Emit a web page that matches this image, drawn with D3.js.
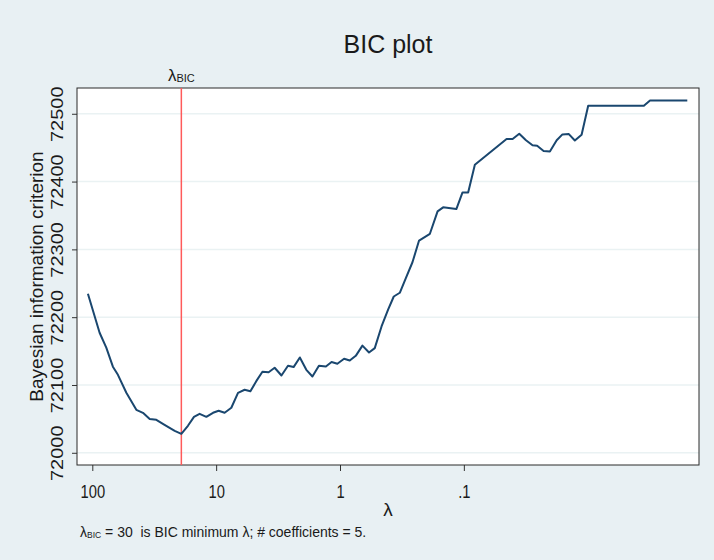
<!DOCTYPE html>
<html>
<head>
<meta charset="utf-8">
<script src="https://cdn.jsdelivr.net/npm/d3@7"></script>
<style>
  html, body { margin: 0; padding: 0; background: #e8f0f3; }
  svg { display: block; }
  text { font-family: "Liberation Sans", Arial, sans-serif; fill: #1a1a1a; white-space: pre; }
</style>
</head>
<body>
<svg id="chart" width="714" height="560"></svg>
<script>
// ---- data ----
const lambdaValues = [108.5, 87.3, 77.1, 68.2, 62.1, 53.1, 44.1, 39.0, 34.4, 30.4, 26.1, 21.6, 19.1,
  16.9, 15.1, 13.6, 12.0, 10.6, 9.55, 8.54, 7.54, 6.66, 5.89, 5.29, 4.73, 4.23, 3.77, 3.37, 2.97,
  2.63, 2.37, 2.11, 1.87, 1.67, 1.48, 1.30, 1.17, 1.05, 0.927, 0.834, 0.746, 0.659, 0.583, 0.524,
  0.462, 0.409, 0.368, 0.329, 0.294, 0.260, 0.230, 0.188, 0.163, 0.147, 0.115, 0.1025, 0.0923,
  0.0815, 0.0452, 0.0404, 0.0357, 0.0315, 0.0279, 0.0256, 0.0227, 0.0202, 0.0178, 0.0160, 0.0142,
  0.0127, 0.0112, 0.00991, 0.00352, 0.00314, 0.00157];
const bicValues = [72234.5, 72177, 72155, 72127, 72115, 72088.5, 72063.4, 72059, 72050, 72048.7,
  72041.3, 72032.4, 72028, 72039.8, 72053, 72057.5, 72053, 72059, 72062, 72059, 72066.4, 72088.5,
  72093, 72090.7, 72106, 72119.5, 72118.7, 72125.4, 72114, 72128.3, 72126.4, 72140.6, 72122.4,
  72112.5, 72128.3, 72127.3, 72133.8, 72131.3, 72138.6, 72136, 72143, 72158, 72148, 72154.4,
  72186.3, 72211, 72230.5, 72236, 72257.7, 72281, 72313, 72323, 72356, 72362, 72359.4, 72384,
  72384, 72424.8, 72462.7, 72462.7, 72470.5, 72461, 72453.5, 72452.8, 72445, 72444.4, 72461,
  72469.6, 72470, 72460.6, 72469, 72511.8, 72511.8, 72519.6, 72519.6];
const xTickValues = [100, 10, 1, 0.1];
const xTickLabels = ["100", "10", "1", ".1"];
const yTickValues = [72000, 72100, 72200, 72300, 72400, 72500];
const lambdaBIC = 19.1;          // position of the vertical reference line
const lambdaBICText = "30";      // value printed in the note
const nCoefficients = 5;

// ---- layout ----
const svg = d3.select("#chart");
const plot = { left: 77, right: 699, top: 88, bottom: 465 };

svg.append("rect").attr("width", 714).attr("height", 560).attr("fill", "#e8f0f3");

const x = d3.scaleLog().domain([132.9, 0.001263]).range([plot.left, plot.right]);
const y = d3.scaleLinear().domain([71982, 72538]).range([plot.bottom, plot.top]);

svg.append("rect")
  .attr("x", plot.left).attr("y", plot.top)
  .attr("width", plot.right - plot.left).attr("height", plot.bottom - plot.top)
  .attr("fill", "#ffffff");

// gridlines
svg.append("g").selectAll("line").data(yTickValues).join("line")
  .attr("x1", plot.left).attr("x2", plot.right)
  .attr("y1", d => y(d)).attr("y2", d => y(d))
  .attr("stroke", "#eaf2f3").attr("stroke-width", 1.5);

// axes
const xAxis = d3.axisBottom(x).tickValues(xTickValues)
  .tickFormat((d, i) => xTickLabels[i]).tickSize(6).tickSizeOuter(0).tickPadding(0);
const gx = svg.append("g").attr("transform", `translate(0,${plot.bottom})`).call(xAxis);
gx.select(".domain").remove();
gx.selectAll(".tick line").attr("stroke", "#333");
gx.selectAll(".tick text").attr("font-size", 18).attr("fill", "#1a1a1a")
  .attr("font-family", '"Liberation Sans", Arial, sans-serif')
  .attr("y", null).attr("dy", null)
  .attr("transform", "translate(0,33) scale(0.82,1)");

const yAxis = d3.axisLeft(y).tickValues(yTickValues).tickFormat(d3.format("d"))
  .tickSize(5).tickSizeOuter(0).tickPadding(0);
const gy = svg.append("g").attr("transform", `translate(${plot.left},0)`).call(yAxis);
gy.select(".domain").remove();
gy.selectAll(".tick line").attr("stroke", "#333");
gy.selectAll(".tick text")
  .attr("font-size", 20).attr("fill", "#1a1a1a")
  .attr("font-family", '"Liberation Sans", Arial, sans-serif')
  .attr("x", null).attr("dy", null)
  .attr("text-anchor", "middle")
  .attr("transform", "translate(-14,0) rotate(-90) scale(1,0.85)");

// plot border
svg.append("rect")
  .attr("x", plot.left).attr("y", plot.top)
  .attr("width", plot.right - plot.left).attr("height", plot.bottom - plot.top)
  .attr("fill", "none").attr("stroke", "#2a2a2a").attr("stroke-width", 1);

// reference line at lambda BIC
svg.append("line")
  .attr("x1", x(lambdaBIC)).attr("x2", x(lambdaBIC))
  .attr("y1", plot.top).attr("y2", plot.bottom)
  .attr("stroke", "#ff5a5a").attr("stroke-width", 1.5);

const lbl = svg.append("text").attr("x", x(lambdaBIC)).attr("y", 81)
  .attr("text-anchor", "middle").attr("font-size", 17);
lbl.append("tspan").text("λ");
lbl.append("tspan").attr("font-size", 11).attr("dy", 1).text("BIC");

// BIC line
const pts = lambdaValues.map((l, i) => [l, bicValues[i]]);
svg.append("path").datum(pts)
  .attr("fill", "none").attr("stroke", "#1a476f").attr("stroke-width", 2)
  .attr("stroke-linejoin", "round")
  .attr("d", d3.line().x(d => x(d[0])).y(d => y(d[1])));

// titles
svg.append("text").attr("x", (plot.left + plot.right) / 2).attr("y", 53)
  .attr("text-anchor", "middle").attr("font-size", 25).text("BIC plot");

svg.append("text").attr("x", (plot.left + plot.right) / 2).attr("y", 516)
  .attr("text-anchor", "middle").attr("font-size", 19).text("λ");

svg.append("text")
  .attr("transform", `translate(43,${(plot.top + plot.bottom) / 2}) rotate(-90)`)
  .attr("text-anchor", "middle").attr("font-size", 19)
  .text("Bayesian information criterion");

const note = svg.append("text").attr("x", 80).attr("y", 537).attr("font-size", 14);
note.append("tspan").text("λ");
note.append("tspan").attr("font-size", 8.5).attr("dy", 1).text("BIC");
note.append("tspan").attr("dy", -1).text(` = ${lambdaBICText}  is BIC minimum λ; # coefficients = ${nCoefficients}.`);
</script>
</body>
</html>
